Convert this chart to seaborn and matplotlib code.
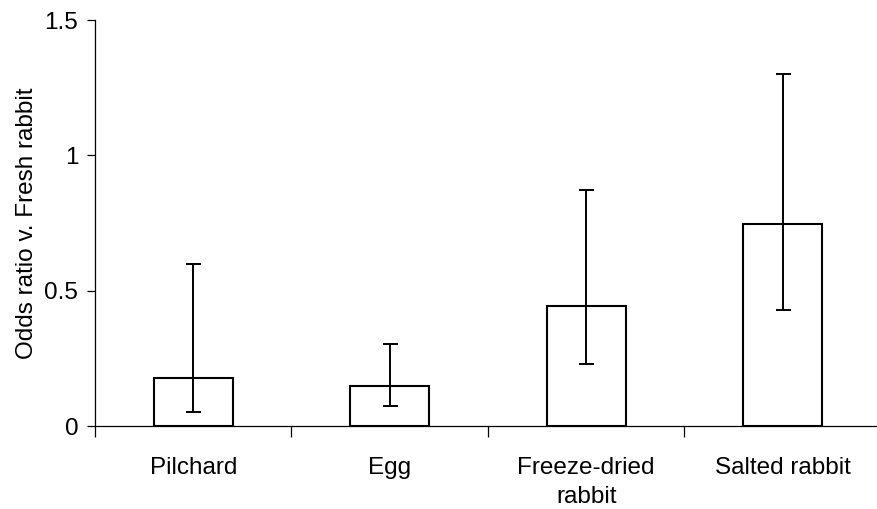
import matplotlib
matplotlib.use("Agg")
import matplotlib.pyplot as plt
import seaborn as sns
import pandas as pd
import numpy as np

categories = ["Pilchard", "Egg", "Freeze-dried\nrabbit", "Salted rabbit"]
odds_ratio = [0.178, 0.148, 0.445, 0.747]
ci_lower = [0.052, 0.074, 0.229, 0.429]
ci_upper = [0.600, 0.305, 0.873, 1.302]
y_ticks = [0, 0.5, 1, 1.5]
y_tick_labels = ["0", "0.5", "1", "1.5"]
y_label = "Odds ratio v. Fresh rabbit"

sns.set_theme(style="white")
plt.rcParams["font.family"] = ["Liberation Sans", "DejaVu Sans"]
plt.rcParams["text.color"] = "black"
plt.rcParams["axes.labelcolor"] = "black"
plt.rcParams["xtick.color"] = "black"
plt.rcParams["ytick.color"] = "black"

df = pd.DataFrame({"food": categories, "or": odds_ratio})

fig = plt.figure(figsize=(8.78, 5.09), dpi=100)
ax = fig.add_axes([95 / 878, (509 - 426.3) / 509, (878 - 95) / 878, (426.3 - 20) / 509])

sns.barplot(data=df, x="food", y="or", ax=ax, color="white", edgecolor="black",
            linewidth=1.5, width=0.4, errorbar=None, saturation=1)

x = np.arange(len(categories))
yerr = [np.array(odds_ratio) - np.array(ci_lower), np.array(ci_upper) - np.array(odds_ratio)]
ax.errorbar(x, odds_ratio, yerr=yerr, fmt="none", ecolor="black", elinewidth=1.4,
            capsize=5.4, capthick=1.4)

fs = 17.5
ax.set_ylim(0, 1.5)
ax.set_xlim(-0.5, 3.5 - 3 / 196.5)
ax.set_yticks(y_ticks)
ax.set_yticklabels(y_tick_labels)
ax.set_ylabel(y_label, fontsize=fs, labelpad=5, color="black")
ax.set_xlabel("")

ax.set_xticks(x)
ax.set_xticklabels(categories, linespacing=1.4)
ax.set_xticks(np.arange(-0.5, 3.5, 1.0), minor=True)
ax.tick_params(axis="x", which="major", length=0, labelsize=fs, pad=22, labelcolor="black")
ax.tick_params(axis="x", which="minor", length=8, width=0.9, color="black", direction="out", bottom=True)
ax.tick_params(axis="y", which="major", length=6, width=0.9, color="black", direction="out",
               labelsize=fs, pad=6, left=True, labelcolor="black")

for s in ["top", "right"]:
    ax.spines[s].set_visible(False)
for s in ["left", "bottom"]:
    ax.spines[s].set_color("black")
    ax.spines[s].set_linewidth(0.9)

fig.savefig("out.png", dpi=100, facecolor="white")
